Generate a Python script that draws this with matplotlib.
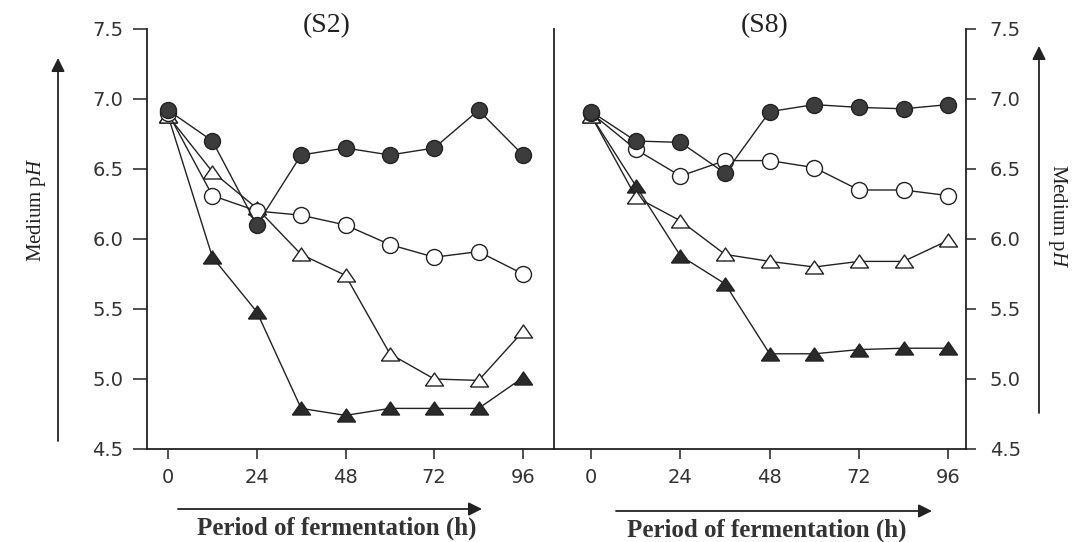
import matplotlib
matplotlib.use('Agg')
import matplotlib.pyplot as plt
from matplotlib.patches import FancyArrowPatch

plt.rcParams['mathtext.fontset'] = 'custom'
plt.rcParams['mathtext.rm'] = 'Liberation Serif'
plt.rcParams['mathtext.it'] = 'Liberation Serif:italic'

# fermentation time (h)
hours = [0, 12, 24, 36, 48, 60, 72, 84, 96]
x_ticks = [0, 24, 48, 72, 96]
y_ticks = [4.5, 5.0, 5.5, 6.0, 6.5, 7.0, 7.5]
panel_titles = ['(S2)', '(S8)']

# medium pH, strain S2
s2_filled_circle = [6.92, 6.70, 6.10, 6.60, 6.65, 6.60, 6.65, 6.92, 6.60]
s2_open_circle = [6.90, 6.31, 6.20, 6.17, 6.10, 5.96, 5.87, 5.91, 5.75]
s2_open_tri = [6.88, 6.48, 6.22, 5.89, 5.74, 5.18, 5.00, 4.99, 5.34]
s2_filled_tri = [6.88, 5.87, 5.48, 4.79, 4.74, 4.79, 4.79, 4.79, 5.01]

# medium pH, strain S8
s8_filled_circle = [6.91, 6.70, 6.69, 6.47, 6.91, 6.96, 6.94, 6.93, 6.96]
s8_open_circle = [6.90, 6.64, 6.45, 6.56, 6.56, 6.51, 6.35, 6.35, 6.31]
s8_open_tri = [6.88, 6.30, 6.13, 5.89, 5.84, 5.80, 5.84, 5.84, 5.99]
s8_filled_tri = [6.88, 6.38, 5.88, 5.68, 5.18, 5.18, 5.21, 5.22, 5.22]

W, H = 1079, 542
def fx(px):
    return px / W
def fy(py):
    return 1 - py / H

ink = '#222222'
tri = [(-1, -0.72), (1, -0.72), (0, 0.72), (-1, -0.72)]  # flat triangle like the scan

fig = plt.figure(figsize=(W / 100, H / 100), dpi=100)
ax1 = fig.add_axes([fx(147), fy(449), 407 / W, 420 / H])
ax2 = fig.add_axes([fx(554), fy(449), 412 / W, 420 / H])

def draw(ax, fc, oc, ot, ft):
    kw = dict(color=ink, lw=1.0, mec=ink, mew=1.0)
    ax.plot(hours, ft, marker=tri, ms=13, mfc='#2a2a2a', zorder=3, **kw)
    ax.plot(hours, ot, marker=tri, ms=13, mfc='white', zorder=4, **kw)
    ax.plot(hours, oc, marker='o', ms=11.5, mfc='white', zorder=5, **kw)
    ax.plot(hours, fc, marker='o', ms=11.5, mfc='#3c3c3c', zorder=6, **kw)
    ax.set_ylim(4.5, 7.5)
    ax.set_yticks(y_ticks)
    ax.set_yticklabels(['%.1f' % v for v in y_ticks])
    ax.set_xticks(x_ticks)
    ax.spines['top'].set_visible(False)
    for s in ax.spines.values():
        s.set_color(ink)
        s.set_linewidth(1.3)
    ax.tick_params(axis='x', length=7, width=1.1, pad=7, labelsize=14,
                   colors=ink, labelcolor='#333333')
    ax.tick_params(axis='y', length=10, width=1.1, pad=7, labelsize=14,
                   colors=ink, labelcolor='#333333')
    ax.patch.set_alpha(0)

draw(ax1, s2_filled_circle, s2_open_circle, s2_open_tri, s2_filled_tri)
draw(ax2, s8_filled_circle, s8_open_circle, s8_open_tri, s8_filled_tri)

ax1.set_xlim(-5.7, 104.4)
ax2.set_xlim(-10.0, 100.8)
ax2.spines['left'].set_visible(False)
ax2.yaxis.tick_right()
ax2.tick_params(axis='y', length=7, pad=10)

# titles
fig.text(fx(327), fy(26), panel_titles[0], ha='center', va='center',
         family='Liberation Serif', fontsize=20, color=ink)
fig.text(fx(765), fy(26), panel_titles[1], ha='center', va='center',
         family='Liberation Serif', fontsize=20, color=ink)

# y labels with arrows
fig.text(fx(36), fy(210), r'Medium p$\mathit{H}$', rotation=90, ha='center',
         va='center', family='Liberation Serif', fontsize=15, color=ink)
fig.text(fx(1057), fy(216), r'Medium p$\mathit{H}$', rotation=270, ha='center',
         va='center', family='Liberation Serif', fontsize=15, color=ink)

def arrow(x0, y0, x1, y1):
    fig.add_artist(FancyArrowPatch((fx(x0), fy(y0)), (fx(x1), fy(y1)),
                                   transform=fig.transFigure, arrowstyle='-|>',
                                   mutation_scale=20, lw=1.3, color=ink,
                                   shrinkA=0, shrinkB=0))

arrow(58, 441, 58, 58)
arrow(1039, 413, 1039, 46)
arrow(178, 509, 482, 509)
arrow(616, 511, 932, 511)

# x labels
fig.text(fx(337), fy(528), 'Period of fermentation (h)', ha='center', va='center',
         family='Liberation Serif', fontweight='bold', fontsize=18, color='#333333')
fig.text(fx(767), fy(530), 'Period of fermentation (h)', ha='center', va='center',
         family='Liberation Serif', fontweight='bold', fontsize=18, color='#333333')

fig.savefig('out.png', dpi=100)
